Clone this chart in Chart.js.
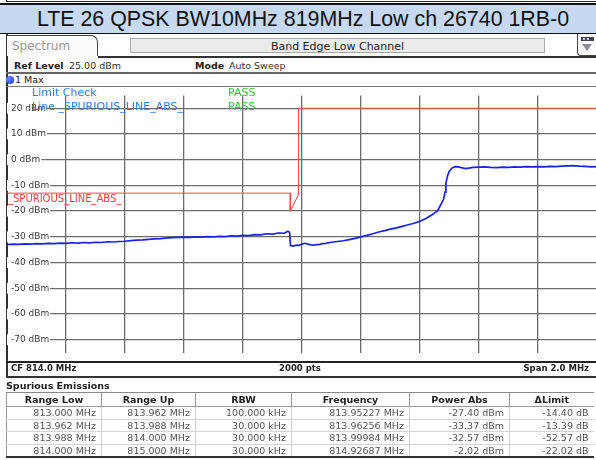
<!DOCTYPE html>
<html><head><meta charset="utf-8">
<script src="https://cdn.jsdelivr.net/npm/chart.js@4.4.1/dist/chart.umd.min.js"></script>
<style>
html,body{margin:0;padding:0;background:#fff;width:596px;height:460px;overflow:hidden;font-family:"DejaVu Sans",Verdana,sans-serif;}
.a{position:absolute;white-space:nowrap;}
.ln{position:absolute;}
#title{left:0;top:3px;width:586px;height:28px;background:#c6d9f0;border-top:2px solid #111;border-bottom:1px solid #111;font-family:"Liberation Sans",Arial,sans-serif;font-size:21.4px;line-height:29px;color:#111;text-align:center;padding-left:10px;box-sizing:content-box;}
#tab{left:7px;top:35px;width:91px;height:21px;border-top:1px solid #444;border-right:1.5px solid #444;border-top-right-radius:7px;background:#fbfbfb;font-size:12px;line-height:21px;color:#9a9a9a;padding-left:5px;box-sizing:border-box;}
#band{left:130px;top:38px;width:415px;height:15px;background:#ebebeb;border:1px solid #a8a8a8;font-size:11px;line-height:15px;color:#222;text-align:center;box-sizing:border-box;}
.b{font-weight:bold;}
.s95{font-size:9.5px;color:#222;}
#tbl{position:absolute;left:6px;top:392px;width:587px;border-collapse:collapse;table-layout:fixed;font-size:9.5px;}
#tbl th{height:13px;padding:0;font-weight:bold;color:#222;text-align:center;border-top:1px solid #888;border-bottom:1px solid #999;border-left:1px solid #999;line-height:13px;}
#tbl td{height:11.5px;padding:0 5px 0 0;color:#555;text-align:right;border-bottom:1px solid #d4d4d4;border-left:1px solid #d0d0d0;line-height:11px;}
#tbl tr:last-child td{border-bottom:2px solid #333;}
#tbl th:first-child,#tbl td:first-child{border-left:1px solid #999;}
</style></head><body>
<div class="ln" style="left:6px;top:0;width:590px;height:2px;border-bottom:1px solid #222;border-left:1px solid #222;box-sizing:border-box;"></div>
<div id="title" class="a">LTE 26 QPSK BW10MHz 819MHz Low ch 26740 1RB-0</div>

<div class="ln" style="left:6px;top:34px;width:1.5px;height:342px;background:#333;"></div>
<div id="tab" class="a">Spectrum</div>
<div class="ln" style="left:98px;top:56px;width:498px;height:1.5px;background:#333;"></div>
<div id="band" class="a">Band Edge Low Channel</div>
<div class="ln" style="left:577px;top:34px;width:19px;height:22px;border-left:1.5px solid #444;border-bottom:1px solid #444;border-bottom-left-radius:4px;box-sizing:border-box;">
  <div class="ln" style="left:3px;top:3px;width:13px;height:4px;background:#445;"></div>
  <div class="ln" style="left:5px;top:4px;width:2px;height:2px;background:#ccd;"></div>
  <div class="ln" style="left:9px;top:4px;width:2px;height:2px;background:#ccd;"></div>
  <div class="ln" style="left:4px;top:10px;width:0;height:0;border-left:5px solid transparent;border-right:5px solid transparent;border-top:7px solid #8a8a9a;"></div>
</div>

<div class="a s95 b" style="left:14px;top:60px;">Ref Level</div>
<div class="a s95" style="left:69px;top:60px;color:#333;">25.00 dBm</div>
<div class="a s95 b" style="left:195px;top:60px;">Mode</div>
<div class="a s95" style="left:229px;top:60px;color:#333;">Auto Sweep</div>
<div class="ln" style="left:6px;top:72px;width:590px;height:1.5px;background:#666;"></div>
<div class="ln" style="left:6px;top:76px;width:8px;height:8px;border-radius:50%;background:radial-gradient(circle at 35% 35%,#6a8cff,#1030d0);"></div>
<div class="a s95" style="left:15px;top:74px;">1 Max</div>
<div class="ln" style="left:6px;top:85.5px;width:590px;height:1px;background:#777;"></div>

<div style="position:absolute;left:7px;top:86px;width:590px;height:276px;">
  <canvas id="c" width="590" height="276"></canvas>
</div>
<div class="ln" style="left:6px;top:361px;width:590px;height:1.5px;background:#222;"></div>

<div class="a" style="left:32px;top:86px;font-size:11px;line-height:14px;color:#2f7cff;">Limit Check</div>
<div class="a" style="left:228px;top:86px;font-size:11px;line-height:14px;color:#2ecc2e;">PASS</div>
<div class="a" style="left:32px;top:100px;font-size:11px;line-height:14px;color:#2f7cff;">Line _SPURIOUS_LINE_ABS_</div>
<div class="a" style="left:228px;top:100px;font-size:11px;line-height:14px;color:#2ecc2e;">PASS</div>
<div class="a" style="left:8px;top:192px;font-size:10px;line-height:13px;color:#ff3a3a;">_SPURIOUS_LINE_ABS_</div>

<div class="a b" style="left:11px;top:362px;font-size:8.5px;line-height:13px;color:#222;">CF 814.0 MHz</div>
<div class="a b" style="left:260px;width:80px;text-align:center;top:362px;font-size:8.5px;line-height:13px;color:#222;">2000 pts</div>
<div class="a b" style="right:7px;top:362px;font-size:8.5px;line-height:13px;color:#222;">Span 2.0 MHz</div>
<div class="ln" style="left:6px;top:375.5px;width:590px;height:2px;background:#333;"></div>
<div class="a b" style="left:6px;top:379px;font-size:9.5px;line-height:14px;color:#222;">Spurious Emissions</div>

<table id="tbl">
<colgroup><col style="width:95px"><col style="width:94px"><col style="width:96px"><col style="width:118px"><col style="width:100px"><col style="width:84px"></colgroup>
<thead><tr id="hdr"></tr></thead><tbody id="tb"></tbody>
</table>

<script>
// ---- data ----
const xGrid = [813.2, 813.4, 813.6, 813.8, 814.0, 814.2, 814.4, 814.6, 814.8];
const yTicks = [20, 10, 0, -10, -20, -30, -40, -50, -60, -70];

const traceFreq = [813.000,813.020,813.040,813.060,813.080,813.100,813.120,813.140,813.160,813.180,
  813.200,813.220,813.240,813.260,813.280,813.300,813.320,813.340,813.360,813.380,
  813.400,813.420,813.440,813.460,813.480,813.500,813.520,813.540,813.560,813.580,
  813.600,813.620,813.640,813.660,813.680,813.700,813.720,813.740,813.760,813.780,
  813.800,813.820,813.840,813.860,813.880,813.900,813.920,813.940,813.952,813.958,
  813.961,813.970,813.980,813.990,814.000,814.010,814.020,814.030,814.040,814.050,
  814.060,814.070,814.080,814.100,814.120,814.140,814.160,814.180,814.200,814.220,
  814.240,814.260,814.280,814.300,814.320,814.340,814.360,814.380,814.400,814.420,
  814.430,814.440,814.450,814.460,814.470,814.475,814.480,814.485,814.488,814.494,
  814.500,814.510,814.520,814.530,814.540,814.555,814.570,814.580,814.600,814.620,
  814.640,814.660,814.680,814.700,814.720,814.740,814.760,814.780,814.800,814.820,
  814.840,814.860,814.880,814.900,814.920,814.940,814.960,814.980,815.000];
const traceDbm = [-33.0,-32.8,-32.9,-32.7,-32.8,-32.6,-32.7,-32.5,-32.6,-32.4,
  -32.5,-32.3,-32.4,-32.2,-32.3,-32.1,-32.2,-31.9,-32.0,-31.8,
  -31.7,-31.5,-31.3,-31.2,-31.0,-30.8,-30.7,-30.5,-30.3,-30.2,
  -30.1,-30.2,-30.0,-30.1,-29.9,-30.0,-29.8,-29.9,-29.6,-29.7,
  -29.4,-29.5,-29.1,-29.2,-28.8,-28.9,-28.5,-28.6,-27.8,-28.2,
  -33.4,-33.6,-33.2,-33.3,-32.8,-32.5,-32.8,-33.1,-33.2,-33.0,
  -32.9,-32.6,-32.5,-32.1,-31.8,-31.5,-31.1,-30.6,-30.0,-29.4,
  -28.8,-28.1,-27.6,-27.0,-26.5,-25.9,-25.3,-24.7,-23.9,-22.9,
  -22.2,-21.5,-20.7,-19.8,-17.6,-16.5,-15.3,-12.6,-9.0,-6.0,
  -4.4,-3.1,-2.7,-2.8,-3.1,-3.5,-3.2,-3.0,-2.9,-2.8,
  -3.0,-3.1,-2.9,-3.0,-2.8,-2.9,-2.7,-2.8,-2.7,-2.8,
  -2.6,-2.7,-2.5,-2.4,-2.3,-2.5,-2.6,-2.8,-2.7];

const limitFreq = [813.000, 813.962, 813.960, 813.988, 813.988, 815.000];
const limitDbm  = [-13, -13, -20, -13.6, 20, 20];

const tableHeaders = ["Range Low", "Range Up", "RBW", "Frequency", "Power Abs", "\u0394Limit"];
const rangeLow  = ["813.000 MHz", "813.962 MHz", "813.988 MHz", "814.000 MHz"];
const rangeUp   = ["813.962 MHz", "813.988 MHz", "814.000 MHz", "815.000 MHz"];
const rbw       = ["100.000 kHz", "30.000 kHz", "30.000 kHz", "30.000 kHz"];
const peakFreq  = ["813.95227 MHz", "813.96256 MHz", "813.99984 MHz", "814.92687 MHz"];
const powerAbs  = ["-27.40 dBm", "-33.37 dBm", "-32.57 dBm", "-2.02 dBm"];
const deltaLimit = ["-14.40 dB", "-13.39 dB", "-52.57 dB", "-22.02 dB"];

// ---- table ----
const hdr = document.getElementById('hdr');
tableHeaders.forEach(h => { const th = document.createElement('th'); th.textContent = h; hdr.appendChild(th); });
const tb = document.getElementById('tb');
rangeLow.forEach((_, i) => {
  const tr = document.createElement('tr');
  [rangeLow[i], rangeUp[i], rbw[i], peakFreq[i], powerAbs[i], deltaLimit[i]].forEach(v => {
    const td = document.createElement('td'); td.textContent = v; tr.appendChild(td);
  });
  tb.appendChild(tr);
});

// ---- chart ----
const toPts = (xs, ys) => xs.map((x, i) => ({x: x, y: ys[i]}));
new Chart(document.getElementById('c'), {
  type: 'line',
  data: {
    datasets: [
      {data: toPts(limitFreq, limitDbm), borderColor: 'rgb(255,70,70)', borderWidth: 1, pointRadius: 0, tension: 0, fill: false},
      {data: toPts(traceFreq, traceDbm), borderColor: 'rgb(25,35,235)', borderWidth: 1.7, pointRadius: 0, tension: 0, fill: false}
    ]
  },
  options: {
    responsive: false, maintainAspectRatio: false, animation: false, devicePixelRatio: 1,
    layout: {padding: 0},
    plugins: {legend: {display: false}, tooltip: {enabled: false}},
    scales: {
      x: {
        type: 'linear', min: 813, max: 815,
        afterBuildTicks: s => { s.ticks = xGrid.map(v => ({value: v})); },
        afterFit: s => { s.height = 0; },
        ticks: {display: false},
        grid: {color: '#6c6c6c', lineWidth: 1.3, drawTicks: false},
        border: {display: false}
      },
      y: {
        type: 'linear', min: -75, max: 25,
        afterBuildTicks: s => { s.ticks = yTicks.map(v => ({value: v})); },
        afterFit: s => { s.width = 0; },
        ticks: {
          mirror: true, padding: 4, color: '#3a3a3a',
          font: {family: 'DejaVu Sans', size: 9},
          callback: v => v + ' dBm',
          showLabelBackdrop: true, backdropColor: '#ffffff',
          backdropPadding: {top: 0, bottom: 0, left: 4, right: 1}
        },
        grid: {color: '#6c6c6c', lineWidth: 1.3, drawTicks: false},
        border: {display: false}
      }
    }
  }
});
</script>
</body></html>
